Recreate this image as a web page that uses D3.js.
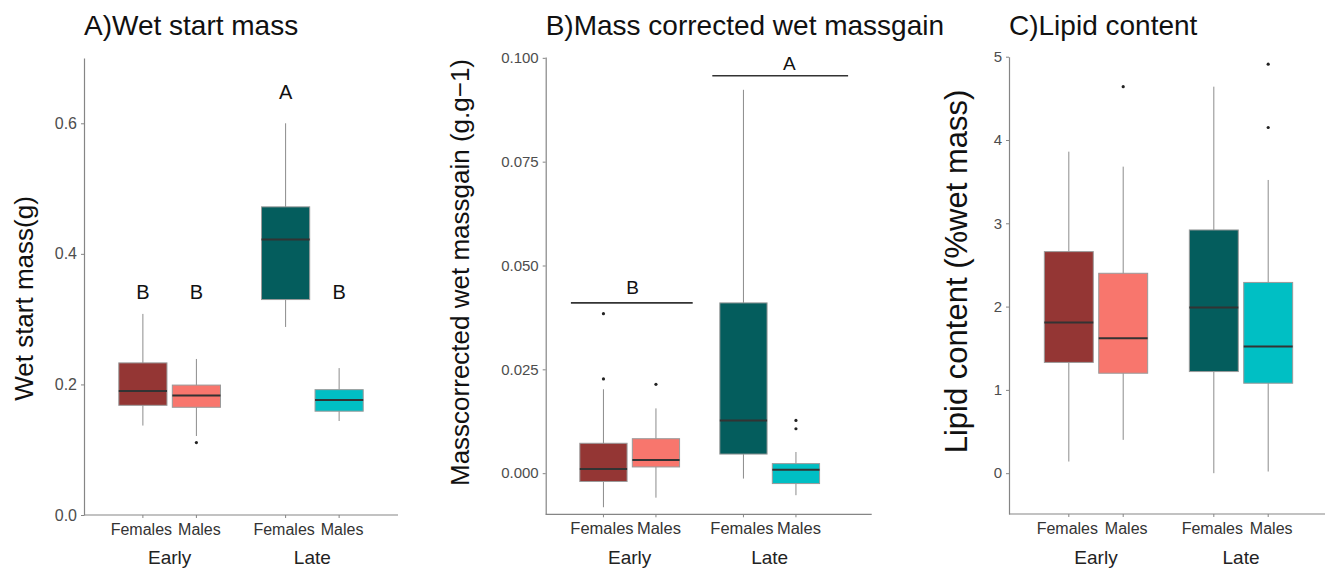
<!DOCTYPE html>
<html>
<head>
<meta charset="utf-8">
<script src="https://cdn.jsdelivr.net/npm/d3@7"></script>
<style>
  body { margin: 0; background: #fff; }
  text { font-family: "Liberation Sans", Arial, sans-serif; }
</style>
</head>
<body>
<script>
const width = 1325, height = 568

const groups = ["Early", "Late"]
const sexes = ["Females", "Males"]
const fills = ["#943634", "#F8766D", "#045D5D", "#00BFC4"]

// box stats per group/sex: [lower whisker, q1, median, q3, upper whisker]
// order: Early Females, Early Males, Late Females, Late Males
const massStats = [
  [0.137, 0.168, 0.190, 0.233, 0.308],
  [0.121, 0.165, 0.183, 0.199, 0.239],
  [0.288, 0.330, 0.422, 0.472, 0.600],
  [0.144, 0.159, 0.176, 0.192, 0.225]
]
const massOutliers = [[], [0.111], [], []]
const massLetters = ["B", "B", "A", "B"]
const massLetterY = [0.342, 0.342, 0.648, 0.342]

const gainStats = [
  [-0.0082, -0.0020, 0.0010, 0.0072, 0.0202],
  [-0.0059, 0.0015, 0.0032, 0.0083, 0.0156],
  [-0.0013, 0.0046, 0.0127, 0.0410, 0.0923],
  [-0.0053, -0.0025, 0.0008, 0.0023, 0.0051]
]
const gainOutliers = [[0.0227, 0.0384], [0.0214], [], [0.0107, 0.0127]]
const gainLetters = ["B", "A"]
const gainBarY = [0.0410, 0.0957]
const gainLetterY = [0.0447, 0.0986]

const lipidStats = [
  [0.14, 1.33, 1.81, 2.66, 3.86],
  [0.40, 1.20, 1.62, 2.40, 3.68],
  [0.00, 1.22, 1.99, 2.92, 4.64],
  [0.02, 1.08, 1.52, 2.29, 3.52]
]
const lipidOutliers = [[], [4.64], [], [4.15, 4.91]]

const svg = d3.select("body").append("svg")
  .attr("width", width)
  .attr("height", height)

function drawPanel(cfg) {
  const g = svg.append("g")

  const x = d3.scalePoint().domain(groups).range([cfg.left, cfg.xEnd]).padding(0.6)
  const step = x.step()
  const sx = d3.scalePoint().domain(sexes).range([-0.1875 * step, 0.1875 * step])
  const bw = 0.3375 * step
  const y = d3.scaleLinear().domain(cfg.domain).range([cfg.bottom, cfg.top])

  const boxes = []
  groups.forEach((gr, i) => sexes.forEach((sx_, j) => {
    const k = i * 2 + j
    boxes.push({group: gr, sex: sx_, s: cfg.stats[k], out: cfg.outliers[k], fill: fills[k], k: k})
  }))
  const cx = d => x(d.group) + sx(d.sex)

  // y axis
  const ya = g.append("g")
    .attr("transform", `translate(${cfg.left},0)`)
    .call(d3.axisLeft(y).tickValues(cfg.ticks).tickFormat(cfg.fmt).tickSize(3).tickSizeOuter(0).tickPadding(4))
  ya.select(".domain").attr("stroke", "#858585").attr("stroke-width", 1.2)
  ya.selectAll(".tick line").attr("stroke", "#858585")
  ya.selectAll(".tick text").attr("fill", "#4d4d4d").style("font-size", cfg.tickFont + "px")
    .style("font-family", "'Liberation Sans', Arial, sans-serif")

  // x axis
  g.append("line")
    .attr("x1", cfg.left).attr("x2", cfg.right)
    .attr("y1", cfg.bottom).attr("y2", cfg.bottom)
    .attr("stroke", "#858585").attr("stroke-width", 1.2)
  g.selectAll(".xtick").data(boxes).join("line")
    .attr("x1", cx).attr("x2", cx)
    .attr("y1", cfg.bottom).attr("y2", cfg.bottom + 3)
    .attr("stroke", "#858585")
  g.selectAll(".xlab").data(boxes).join("text")
    .attr("x", d => cx(d) + (d.sex == "Females" ? -1.5 : 3))
    .attr("y", cfg.bottom + 19.5)
    .attr("text-anchor", "middle")
    .attr("fill", "#333")
    .style("font-size", cfg.xFont + "px")
    .text(d => d.sex)
  g.selectAll(".glab").data(groups).join("text")
    .attr("x", d => x(d)).attr("y", 564)
    .attr("text-anchor", "middle")
    .attr("fill", "#222")
    .style("font-size", "19px")
    .text(d => d)

  // whiskers
  const bx = g.selectAll(".box").data(boxes).join("g")
  bx.append("line")
    .attr("x1", cx).attr("x2", cx)
    .attr("y1", d => y(d.s[0])).attr("y2", d => y(d.s[4]))
    .attr("stroke", "#8c8c8c").attr("stroke-width", 1)
  bx.append("rect")
    .attr("x", d => cx(d) - bw / 2)
    .attr("width", bw)
    .attr("y", d => y(d.s[3]))
    .attr("height", d => y(d.s[1]) - y(d.s[3]))
    .attr("fill", d => d.fill)
    .attr("stroke", "#9a9a9a").attr("stroke-width", 1)
  bx.append("line")
    .attr("x1", d => cx(d) - bw / 2).attr("x2", d => cx(d) + bw / 2)
    .attr("y1", d => y(d.s[2])).attr("y2", d => y(d.s[2]))
    .attr("stroke", "#333").attr("stroke-width", 2)
  bx.selectAll("circle").data(d => d.out.map(v => ({v: v, d: d}))).join("circle")
    .attr("cx", o => cx(o.d)).attr("cy", o => y(o.v))
    .attr("r", 1.6).attr("fill", "#222")

  // title
  svg.append("text")
    .attr("x", cfg.left).attr("y", 34.5)
    .style("font-size", "28px")
    .attr("fill", "#111")
    .text(cfg.title)

  svg.append("text")
    .attr("transform", `translate(${cfg.ytX},${cfg.ytY}) rotate(-90)`)
    .attr("text-anchor", "middle")
    .style("font-size", cfg.ytFont + "px")
    .attr("fill", "#111")
    .text(cfg.ytitle)

  return {g, x, y, sx, step, boxes, cx}
}

const pa = drawPanel({
  left: 84, right: 398, xEnd: 398, top: 58, bottom: 515,
  domain: [0, 0.7], ticks: [0, 0.2, 0.4, 0.6], fmt: d3.format(".1f"),
  stats: massStats, outliers: massOutliers, tickFont: 16, xFont: 16,
  title: "A)Wet start mass", ytitle: "Wet start mass(g)", ytX: 32.5, ytY: 298.5, ytFont: 26
})
pa.g.selectAll(".letter").data(pa.boxes).join("text")
  .attr("x", pa.cx).attr("y", d => pa.y(massLetterY[d.k]))
  .attr("dy", "0.35em")
  .attr("text-anchor", "middle")
  .style("font-size", "20px")
  .attr("fill", "#111")
  .text(d => massLetters[d.k])

const pb = drawPanel({
  left: 545.7, right: 871.7, xEnd: 853.7, top: 57, bottom: 514.3,
  domain: [-0.0099, 0.1002], ticks: [0, 0.025, 0.05, 0.075, 0.1], fmt: d3.format(".3f"),
  stats: gainStats, outliers: gainOutliers, tickFont: 15, xFont: 16.5,
  title: "B)Mass corrected wet massgain", ytitle: "Masscorrected wet massgain (g.g\u22121)",
  ytX: 469, ytY: 272.5, ytFont: 26
})
// significance bars, extents in group units around each group centre
const barSpan = [[-0.42, 0.45, 0.02], [-0.41, 0.56, 0.14]]
groups.forEach((gr, i) => {
  const c = pb.x(gr), s = pb.step
  pb.g.append("line")
    .attr("x1", c + barSpan[i][0] * s).attr("x2", c + barSpan[i][1] * s)
    .attr("y1", pb.y(gainBarY[i])).attr("y2", pb.y(gainBarY[i]))
    .attr("stroke", "#333").attr("stroke-width", 1.6)
  pb.g.append("text")
    .attr("x", c + barSpan[i][2] * s).attr("y", pb.y(gainLetterY[i]))
    .attr("dy", "0.35em")
    .attr("text-anchor", "middle")
    .style("font-size", "19px")
    .attr("fill", "#111")
    .text(gainLetters[i])
})

drawPanel({
  left: 1009, right: 1325, xEnd: 1328, top: 56.7, bottom: 514,
  domain: [-0.49, 5.0], ticks: [0, 1, 2, 3, 4, 5], fmt: d3.format("d"),
  stats: lipidStats, outliers: lipidOutliers, tickFont: 15, xFont: 16,
  title: "C)Lipid content", ytitle: "Lipid content (%wet mass)",
  ytX: 967, ytY: 271.5, ytFont: 31
})
</script>
</body>
</html>
